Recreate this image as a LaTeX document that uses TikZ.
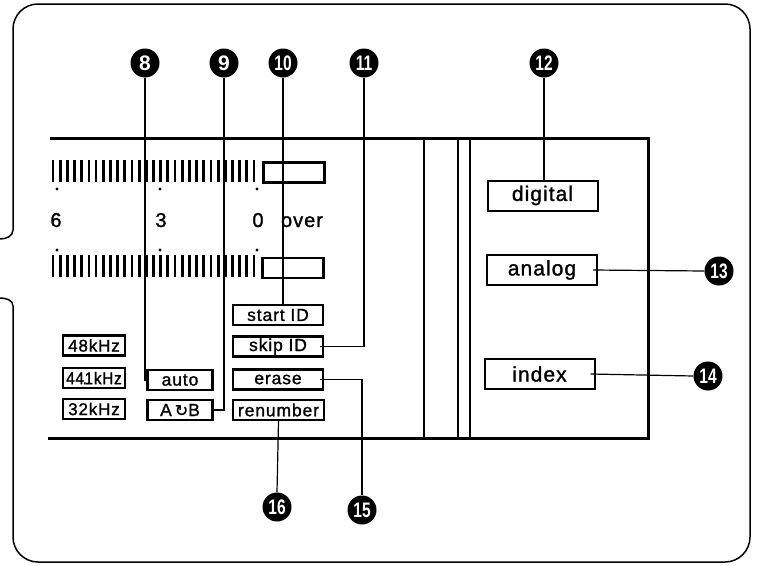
\documentclass[tikz,border=0pt]{standalone}
\usepackage{fontspec}
\usepackage{graphicx}
\setmainfont{Liberation Sans}
\newfontfamily\lblfont{Liberation Sans}[LetterSpace=5, FakeBold=1.2]
\newfontfamily\symfont{DejaVu Sans}[FakeBold=1.2]
\newcommand\twodig[1]{\scalebox{0.74}[1]{#1}}
\begin{document}
\begin{tikzpicture}[x=1pt,y=-1pt,
  frame/.style={line width=1.5pt},
  panel/.style={line width=3pt},
  divider/.style={line width=2.6pt},
  keybox/.style={draw, line width=2.2pt, inner sep=0pt, minimum width=90pt, minimum height=20pt,
    font=\lblfont\fontsize{17.5}{18}\selectfont},
  khzbox/.style={keybox, minimum width=62pt, font=\lblfont\fontsize{17}{18}\selectfont},
  bigbox/.style={draw, line width=2pt, inner sep=0pt, minimum width=110pt, minimum height=30pt,
    font=\lblfont\fontsize{21}{22}\selectfont},
  meterbox/.style={draw, line width=2.2pt, inner sep=0pt, minimum width=61pt, minimum height=20pt},
  callout/.style={circle, fill=black, inner sep=0pt, minimum size=29pt, text=white,
    font=\bfseries\fontsize{21}{21}\selectfont},
  lead/.style={line width=1.2pt},
  tickmark/.style={line width=2.8pt},
  scalenum/.style={inner sep=0pt, anchor=base, font=\lblfont\fontsize{20}{20}\selectfont}
]
\useasboundingbox (0,0) rectangle (757,565);

% outer frame
\draw[frame, rounded corners=25pt] (13,230) -- (13,4) -- (750,4) -- (750,562) -- (13,562) -- (13,306);
\draw[frame] (13,230) to[out=-90,in=0] (0,239);
\draw[frame] (0,298) to[out=0,in=90] (13,306);

% panel
\draw[panel] (50,138) -- (648,138) -- (648,438) -- (48,438);
\draw[divider] (424,138) -- (424,438);
\draw[divider] (458,138) -- (458,438);
\draw[divider] (470,138) -- (470,438);

% level meters
\foreach \i in {0,...,28} {
  \draw[tickmark] ({53+\i*7.18},160) -- ++(0,22);
  \draw[tickmark] ({53+\i*7.18},255) -- ++(0,22);
}
\foreach \x in {57,160,257} {
  \fill (\x,189) circle (1.7);
  \fill (\x,250) circle (1.7);
}
\node[meterbox] (ovr1) at (294,172.5) {};
\node[meterbox] (ovr2) at (293,268) {};
\node[scalenum] (s6) at (56,227) {6};
\node[scalenum] (s3) at (161,227) {3};
\node[scalenum] (s0) at (258,227) {0};
\node[scalenum] (sover) at (302,227) {over};

% key boxes
\node[khzbox] (k48) at (94,345.5) {48kHz};
\node[khzbox] (k441) at (94,378) {\scalebox{0.9}[1]{44\kern-1.5pt.\kern-2.5pt1kHz}};
\node[khzbox] (k32) at (94,409) {32kHz};
\node[keybox, minimum width=65pt] (auto) at (180,380) {auto};
\node[keybox, minimum width=65pt] (ab) at (180,410) {A\,{\symfont\fontsize{16}{16}\selectfont ↻}B};
\node[keybox] (startid) at (278,315) {start ID};
\node[keybox] (skipid) at (278,346.5) {skip ID};
\node[keybox] (erase) at (278,379.5) {erase};
\node[keybox, minimum width=91pt] (renumber) at (278.5,410) {renumber};

\node[bigbox] (digital) at (542.5,195.5) {digital};
\node[bigbox] (analog) at (542,270) {analog};
\node[bigbox] (index) at (539.5,374) {index};

% callouts
\node[callout] (c8) at (145,63) {8};
\node[callout] (c9) at (224,63) {9};
\node[callout] (c10) at (283,63) {\twodig{10}};
\node[callout] (c11) at (364,63) {\twodig{11}};
\node[callout] (c12) at (544,63) {\twodig{12}};
\node[callout] (c13) at (719,271) {\twodig{13}};
\node[callout] (c14) at (708,376) {\twodig{14}};
\node[callout] (c15) at (362,510) {\twodig{15}};
\node[callout] (c16) at (277,507) {\twodig{16}};

% leaders
\draw[lead] (c8.south) |- (auto.west);
\draw[lead] (c9.south) |- ([xshift=-3pt]ab.east);
\draw[lead] (c10.south) -- (c10.south |- startid.north);
\draw[lead] (c11.south) |- ([xshift=-4pt]skipid.east);
\draw[lead] (c12.south) -- (c12.south |- digital.north);
\draw[lead] ([xshift=-5pt]analog.east) -- (c13.west);
\draw[lead] ([xshift=-5pt]index.east) -- (c14.west);
\draw[lead] ([xshift=-4pt]erase.east) -| (c15.north);
\draw[lead] (renumber.south) -- (c16.north);
\end{tikzpicture}
\end{document}
